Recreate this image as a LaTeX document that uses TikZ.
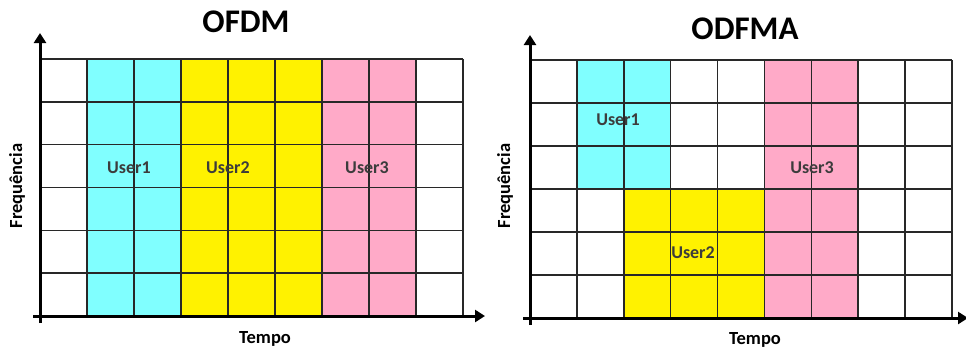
\documentclass[tikz,border=0pt]{standalone}
\usepackage{fontspec}
\setmainfont{Carlito}
\usetikzlibrary{arrows.meta}
\definecolor{ucyan}{RGB}{128,255,255}
\definecolor{uyellow}{RGB}{255,242,0}
\definecolor{upink}{RGB}{255,170,200}
\definecolor{gridc}{RGB}{40,40,40}
\definecolor{lblc}{RGB}{60,60,60}
\tikzset{
  gridline/.style={draw=gridc, line width=1.5pt},
  axisline/.style={draw=black, line width=3pt, -{Triangle[length=10pt,width=12pt]}},
  userlbl/.style={font=\bfseries\fontsize{18}{18}\selectfont, text=lblc, inner sep=0pt},
  axlbl/.style={font=\bfseries\fontsize{18.5}{18.5}\selectfont, inner sep=0pt},
  ttl/.style={font=\bfseries\fontsize{33}{33}\selectfont, inner sep=0pt}
}
\begin{document}
\begin{tikzpicture}[x=1pt,y=-1pt]
\useasboundingbox (0,0) rectangle (966,349);
% ---------- OFDM ----------
\fill[ucyan] (87,59) rectangle (181,316);
\fill[uyellow] (181,59) rectangle (322,316);
\fill[upink] (322,59) rectangle (416,316);
\foreach \k in {1,...,9} \draw[gridline] ({40+47*\k},59) -- ({40+47*\k},316);
\foreach \k in {0,...,5} \draw[gridline] (40,{59+257/6*\k}) -- (463,{59+257/6*\k});
\coordinate (LxS) at (33,316); \coordinate (LxE) at (485,316);
\coordinate (LyS) at (40,323); \coordinate (LyE) at (40,33);
\draw[axisline] (LxS) -- (LxE);
\draw[axisline] (LyS) -- (LyE);
\node[userlbl] (lu1) at (129,168) {User1};
\node[userlbl] (lu2) at (228,168) {User2};
\node[userlbl] (lu3) at (367,168) {User3};
\node[ttl] (lt) at (246,22) {OFDM};
\node[axlbl] (ltempo) at (265,339) {Tempo};
\node[axlbl, rotate=90] (lfreq) at (17,186) {Frequência};
% ---------- ODFMA ----------
\fill[ucyan] (577,60) rectangle (671,189);
\fill[uyellow] (624,189) rectangle (765,318);
\fill[upink] (765,60) rectangle (859,318);
\foreach \k in {1,...,9} \draw[gridline] ({530+422/9*\k},60) -- ({530+422/9*\k},318);
\foreach \k in {0,...,5} \draw[gridline] (530,{60+43*\k}) -- (952,{60+43*\k});
\coordinate (RxS) at (523,318); \coordinate (RxE) at (968,318);
\coordinate (RyS) at (530,325); \coordinate (RyE) at (530,35);
\draw[axisline] (RxS) -- (RxE);
\draw[axisline] (RyS) -- (RyE);
\node[userlbl] (ru1) at (618,120) {User1};
\node[userlbl] (ru2) at (693,253) {User2};
\node[userlbl] (ru3) at (812,168) {User3};
\node[ttl] (rt) at (745,29) {ODFMA};
\node[axlbl] (rtempo) at (755,340) {Tempo};
\node[axlbl, rotate=90] (rfreq) at (505,186) {Frequência};
\end{tikzpicture}
\end{document}
